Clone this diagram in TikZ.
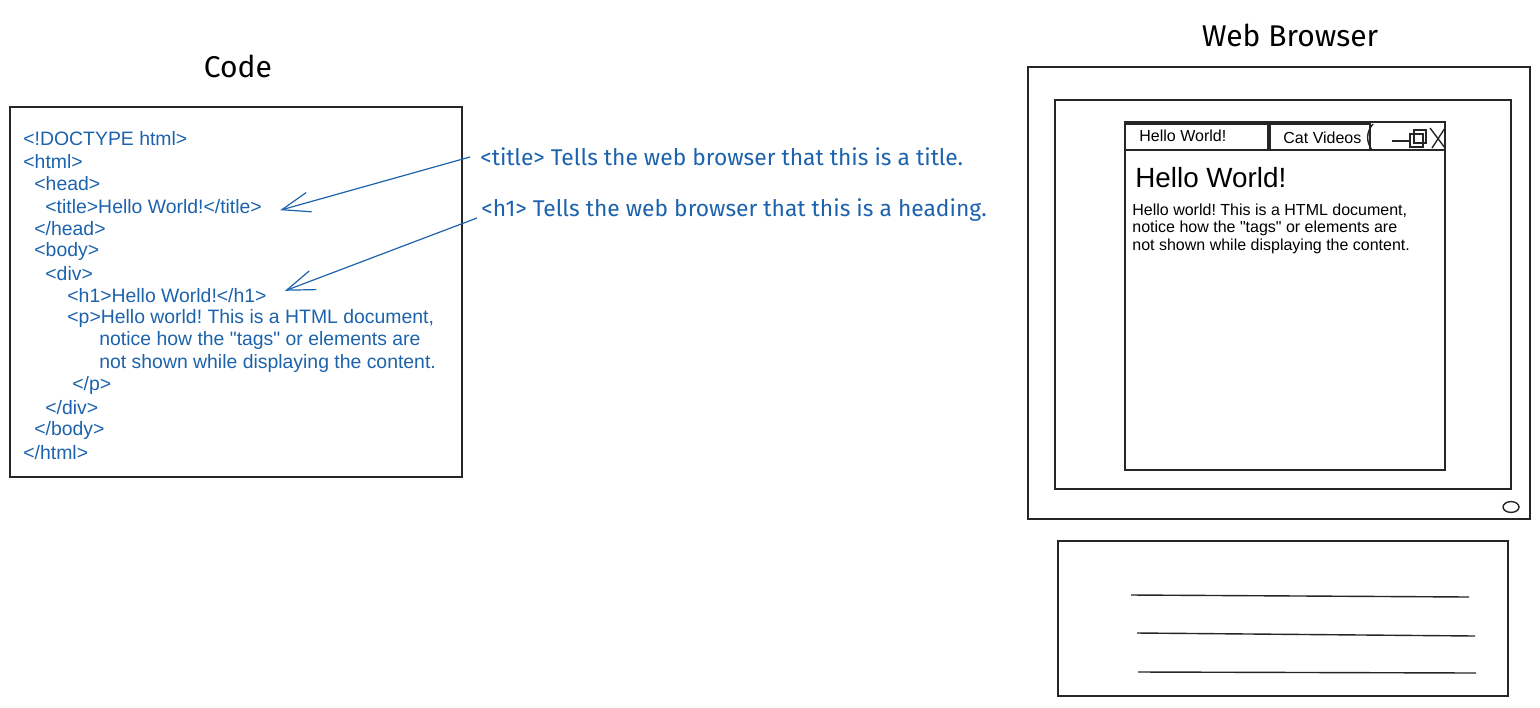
\documentclass[tikz,border=0pt]{standalone}
\usepackage{fontspec}
\setmainfont{Liberation Sans}
\newfontfamily\handfont{Fira Sans}
\usetikzlibrary{arrows.meta,positioning}
\frenchspacing
\definecolor{codeblue}{RGB}{28,98,172}
\tikzset{
	sketch/.style={draw=black!85, line width=0.7pt},
	codeline/.style={anchor=west, inner sep=0pt, text=codeblue, font=\fontsize{9.7}{11}\selectfont},
	note/.style={anchor=west, inner sep=0pt, text=codeblue, font=\handfont\fontsize{11.4}{13}\selectfont},
	notearrow/.style={draw=codeblue, line width=0.6pt, -{Straight Barb[length=14pt,width=10pt]}},
	heading/.style={inner sep=0pt, font=\handfont\fontsize{15}{18}\selectfont},
	pagetext/.style={anchor=west, inner sep=0pt, font=\fontsize{8}{9}\selectfont}
}

\begin{document}
\begin{tikzpicture}[x=0.5pt,y=-0.5pt]
	\useasboundingbox (0,0) rectangle (1540,707);
	% code
	\node[heading] (codetitle) at (238,66) {Code};
	\draw[sketch] (10,107) rectangle (462,477);
	\foreach \x/\t [count=\i] in {23/{<!DOCTYPE html>}, 23/{<html>}, 34/{<head>}, 45/{<title>Hello World!</title>}, 34/{</head>}, 34/{<body>}, 45/{<div>}, 67/{<h1>Hello World!</h1>}, 67/{<p>Hello world! This is a HTML document,}, 99/{notice how the \textquotedbl tags\textquotedbl\ or elements are}, 99/{not shown while displaying the content.}, 72/{</p>}, 45/{</div>}, 34/{</body>}, 23/{</html>}}
		\node[codeline] (l\i) at (\x,{116.6+22.4*\i}) {\t};
	% notes
	\node[note] (titlenote) at (480,157) {<title> Tells the web browser that this is a title.};
	\node[note] (headnote) at (481,210) {<h1> Tells the web browser that this is a heading.};
	\draw[notearrow] ([xshift=-5pt]titlenote.west) -- ([xshift=9pt,yshift=-2pt]l4.east);
	\draw[notearrow] ([xshift=-2pt,yshift=-4pt]headnote.west) -- ([xshift=9pt,yshift=2.5pt]l8.east);
	% browser
	\node[heading] (browsertitle) at (1290,35) {Web Browser};
	\draw[sketch] (1028,67) rectangle (1530,519);
	\draw[sketch] (1055,100) rectangle (1511,489);
	\draw[sketch] (1511,507) ellipse (4pt and 2.7pt);
	\draw[sketch] (1125,122) rectangle (1445,470);
	\draw[sketch] (1125,150) -- (1445,150);
	\draw[sketch] (1125,124) rectangle (1268,150);
	\draw[sketch] (1270,124) rectangle (1370,150);
	\draw[sketch] (1373,124) .. controls (1366,132) and (1366,142) .. (1372,150);
	\node[pagetext] (tabone) at (1139,136) {Hello World!};
	\node[pagetext] (tabtwo) at (1283,138) {Cat Videos};
	\draw[sketch] (1392,141) -- (1410,141);
	\draw[sketch] (1410,134) rectangle (1423,147);
	\draw[sketch] (1414,130) rectangle (1426,143);
	\draw[sketch] (1430,128) -- (1445,148) (1445,128) -- (1432,148);
	\node[anchor=west, inner sep=0pt, font=\fontsize{13.9}{16}\selectfont] (pagehead) at (1135,178) {Hello World!};
	\node[pagetext] (pline1) at (1132,211) {Hello world! This is a HTML document,};
	\node[pagetext] (pline2) at (1132,228.5) {notice how the \textquotedbl tags\textquotedbl\ or elements are};
	\node[pagetext] (pline3) at (1132,246) {not shown while displaying the content.};
	% keyboard
	\draw[sketch] (1058,541) rectangle (1508,696);
	\draw[sketch] (1131,595) -- (1469,597);
	\draw[sketch] (1137,633) -- (1475,636);
	\draw[sketch] (1138,672) -- (1476,673);
\end{tikzpicture}
\end{document}
